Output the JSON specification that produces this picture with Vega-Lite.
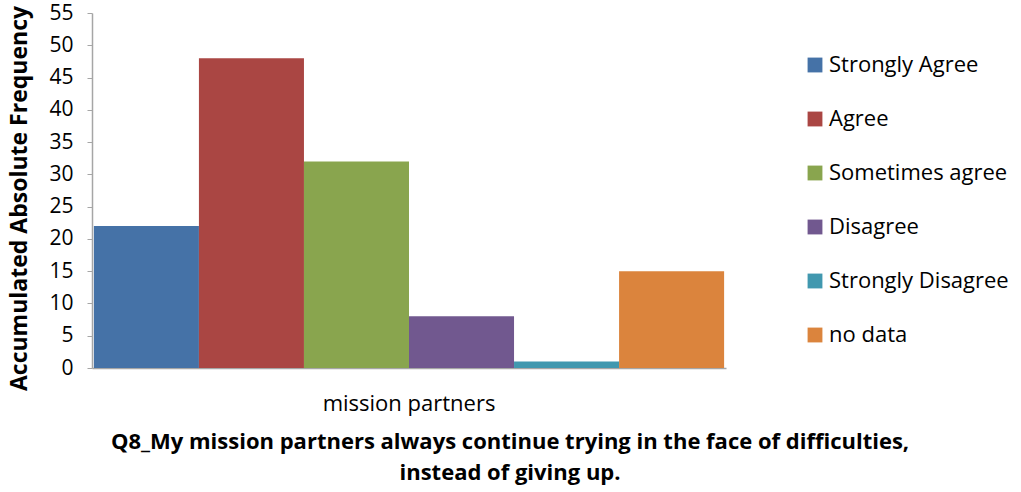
{
  "$schema": "https://vega.github.io/schema/vega-lite/v6.json",
  "autosize": {"type": "none"},
  "padding": {"left": 92, "top": 13, "right": 295, "bottom": 124},
  "width": 634,
  "height": 355,
  "background": "white",
  "config": {
    "font": "Open Sans",
    "view": {"stroke": null}
  },
  "title": {
    "text": ["Q8_My mission partners always continue trying in the face of difficulties,", "instead of giving up."],
    "orient": "bottom",
    "anchor": "middle",
    "dx": 101,
    "offset": 18,
    "fontSize": 22,
    "fontWeight": "bold",
    "font": "Open Sans",
    "lineHeight": 31,
    "color": "black"
  },
  "data": {
    "values": [
      {"group": "mission partners", "response": "Strongly Agree", "value": 22},
      {"group": "mission partners", "response": "Agree", "value": 48},
      {"group": "mission partners", "response": "Sometimes agree", "value": 32},
      {"group": "mission partners", "response": "Disagree", "value": 8},
      {"group": "mission partners", "response": "Strongly Disagree", "value": 1},
      {"group": "mission partners", "response": "no data", "value": 15}
    ]
  },
  "mark": {"type": "bar"},
  "encoding": {
    "x": {
      "field": "group",
      "type": "nominal",
      "scale": {"paddingInner": 0, "paddingOuter": 0.003},
      "axis": {
        "title": null,
        "labelAngle": 0,
        "ticks": false,
        "labelFontSize": 22,
        "labelColor": "black",
        "labelPadding": 25,
        "domainColor": "#a6a6a6",
        "domainWidth": 1.5
      }
    },
    "xOffset": {
      "field": "response",
      "type": "nominal",
      "sort": ["Strongly Agree", "Agree", "Sometimes agree", "Disagree", "Strongly Disagree", "no data"],
      "scale": {"paddingInner": 0, "paddingOuter": 0}
    },
    "y": {
      "field": "value",
      "type": "quantitative",
      "scale": {"domain": [0, 55], "nice": false},
      "axis": {
        "values": [0, 5, 10, 15, 20, 25, 30, 35, 40, 45, 50, 55],
        "grid": false,
        "title": "Accumulated Absolute Frequency",
        "titleFontSize": 23,
        "titleFontWeight": "bold",
        "titleColor": "black",
        "titlePadding": 17,
        "titleY": 185,
        "labelFontSize": 21,
        "labelColor": "black",
        "labelPadding": 14,
        "tickSize": 5,
        "tickColor": "#a6a6a6",
        "domainColor": "#a6a6a6",
        "domainWidth": 1.5
      }
    },
    "color": {
      "field": "response",
      "type": "nominal",
      "sort": ["Strongly Agree", "Agree", "Sometimes agree", "Disagree", "Strongly Disagree", "no data"],
      "scale": {
        "domain": ["Strongly Agree", "Agree", "Sometimes agree", "Disagree", "Strongly Disagree", "no data"],
        "range": ["#4572A7", "#AA4643", "#89A54E", "#71588F", "#4198AF", "#DB843D"]
      },
      "legend": {
        "title": null,
        "orient": "none",
        "legendX": 712,
        "legendY": 41,
        "symbolType": "square",
        "symbolSize": 220,
        "symbolStrokeWidth": 0,
        "labelFontSize": 22,
        "labelColor": "black",
        "labelOffset": 3,
        "rowPadding": 32,
        "labelLimit": 300
      }
    }
  }
}
